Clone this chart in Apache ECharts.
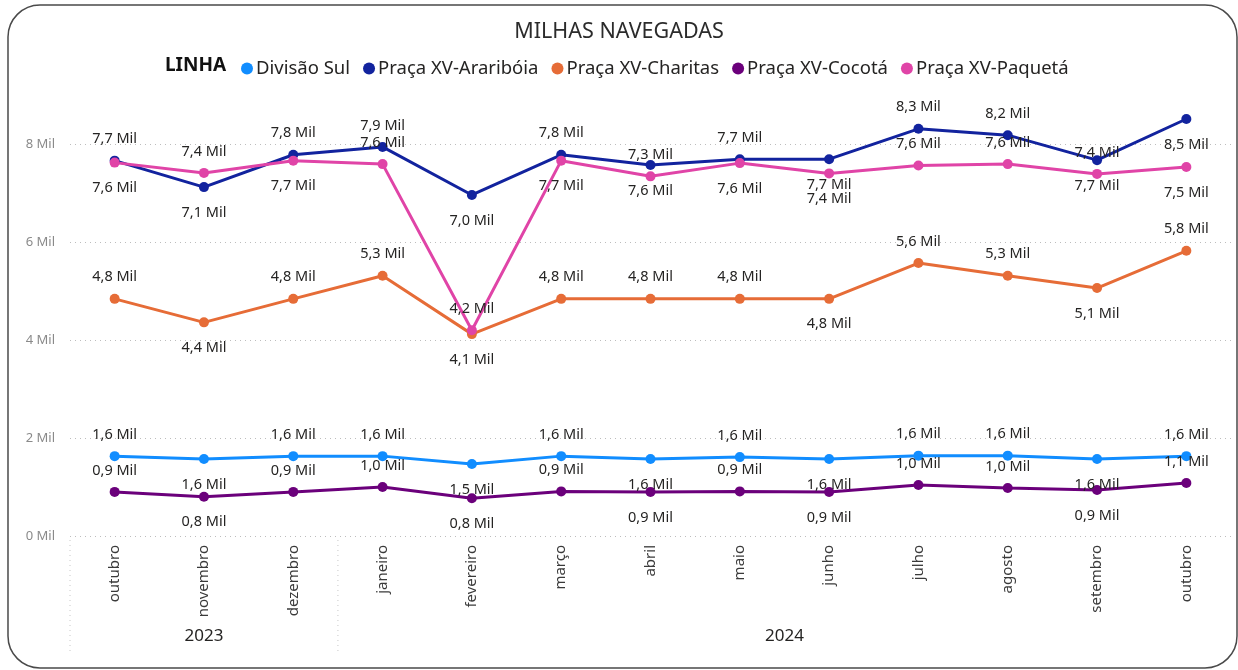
<!DOCTYPE html>
<html>
<head>
<meta charset="utf-8">
<title>Milhas navegadas</title>
<script src="https://cdn.jsdelivr.net/npm/echarts@6.0.0/dist/echarts.min.js"></script>
<style>
  html, body { margin: 0; padding: 0; background: #fff; }
  #chart { width: 1238px; height: 670px; }
</style>
</head>
<body>
<div id="chart"></div>
<script>
// meses (out/2023 .. out/2024)
const months = ['outubro', 'novembro', 'dezembro', 'janeiro', 'fevereiro', 'março', 'abril', 'maio', 'junho', 'julho', 'agosto', 'setembro', 'outubro']
const yearGroups = [
  { year: '2023', from: 0, to: 2 },
  { year: '2024', from: 3, to: 12 }
]
const seriesNames = ['Divisão Sul', 'Praça XV-Araribóia', 'Praça XV-Charitas', 'Praça XV-Cocotá', 'Praça XV-Paquetá']

// milhas navegadas por linha
const divisaoSul = [1630, 1570, 1630, 1630, 1470, 1630, 1570, 1610, 1570, 1640, 1640, 1570, 1630]
const arariboia = [7660, 7120, 7780, 7940, 6960, 7780, 7570, 7690, 7690, 8310, 8180, 7670, 8510]
const charitas = [4840, 4360, 4840, 5310, 4120, 4840, 4840, 4840, 4840, 5570, 5310, 5060, 5820]
const cocota = [900, 800, 900, 1000, 770, 910, 900, 910, 900, 1040, 980, 940, 1080]
const paqueta = [7620, 7410, 7660, 7590, 4200, 7660, 7340, 7610, 7400, 7560, 7590, 7390, 7530]

const yTicks = [0, 2000, 4000, 6000, 8000]

// onde fica o rótulo de cada ponto (T = acima, B = abaixo)
const labelSides = [
  'TBTTBTBTBTTBT',
  'TBTTBTBTBTTBB',
  'TBTTBTTTBTTBT',
  'TBTTBTBTBTTBT',
  'BTBTTBTBBTTTB'
]
const colors = ['#118DFF', '#12239E', '#E66C37', '#6B007B', '#E044A7']

const fmtMil = v => (v / 1000).toFixed(1).replace('.', ',') + ' Mil'

const chart = echarts.init(document.getElementById('chart'))

const allData = [divisaoSul, arariboia, charitas, cocota, paqueta]
const series = allData.map((arr, i) => {
  return {
    name: seriesNames[i],
    type: 'line',
    data: arr.map((v, j) => {
      const top = labelSides[i][j] === 'T'
      return {
        value: v,
        label: { position: top ? 'top' : 'bottom', distance: top ? 9 : 13 }
      }
    }),
    symbol: 'circle',
    symbolSize: 10,
    lineStyle: { width: 3, color: colors[i] },
    itemStyle: { color: colors[i] },
    label: {
      show: true,
      color: '#252423',
      fontSize: 14.5,
      fontFamily: 'Noto Sans',
      formatter: p => fmtMil(p.value)
    },
    emphasis: { disabled: true },
    animation: false
  }
})

chart.setOption({
  color: colors,
  textStyle: { fontFamily: 'Noto Sans' },
  title: {
    text: 'MILHAS NAVEGADAS',
    left: 'center',
    top: 16,
    textStyle: { fontSize: 21.5, fontWeight: 'normal', color: '#2b2b2b', fontFamily: 'Noto Sans' }
  },
  legend: {
    left: 236,
    top: 54,
    icon: 'circle',
    itemWidth: 12,
    itemHeight: 12,
    itemGap: 13,
    textStyle: { fontSize: 18.5, color: '#252423', padding: [0, 0, 0, -2] },
    data: seriesNames
  },
  grid: {
    left: 70,
    right: 7,
    top: 95,
    bottom: 134
  },
  xAxis: {
    type: 'category',
    data: months,
    axisLine: { show: false },
    axisTick: { show: false },
    axisLabel: {
      rotate: 90,
      margin: 9,
      color: '#3a3a3a',
      fontSize: 15
    }
  },
  yAxis: {
    type: 'value',
    min: yTicks[0],
    max: 9000,
    interval: 2000,
    axisLine: { show: false },
    axisTick: { show: false },
    axisLabel: {
      color: '#8a8a8a',
      fontSize: 13,
      margin: 15,
      showMaxLabel: false,
      formatter: v => (yTicks.indexOf(v) >= 0 ? v / 1000 + ' Mil' : '')
    },
    splitLine: {
      showMaxLine: false,
      lineStyle: { type: [1, 4], color: '#BDBDBD', width: 1 }
    }
  },
  series: series
})

// moldura, título da legenda e linha dos anos
function drawExtras() {
  const pos = i => chart.convertToPixel({ xAxisIndex: 0 }, i)
  const half = (pos(1) - pos(0)) / 2
  const els = [
    {
      type: 'rect',
      shape: { x: 8, y: 5, width: 1229, height: 663, r: 32 },
      style: { fill: 'none', stroke: '#4a4a4a', lineWidth: 1.5 },
      silent: true
    },
    {
      type: 'text',
      left: 165,
      top: 56,
      style: { text: 'LINHA', font: 'bold 19px "Noto Sans"', fill: '#111' }
    }
  ]
  yearGroups.forEach(g => {
    const x0 = pos(g.from) - half
    const x1 = pos(g.to) + half
    els.push({
      type: 'text',
      x: (x0 + x1) / 2,
      y: 636,
      style: { text: g.year, font: '17px "Noto Sans"', fill: '#252423', align: 'center', verticalAlign: 'middle' }
    })
    els.push({
      type: 'line',
      shape: { x1: x0, y1: 540, x2: x0, y2: 652 },
      style: { stroke: '#C8C8C8', lineWidth: 1, lineDash: [1, 4] },
      silent: true
    })
  })
  chart.setOption({ graphic: els })
}
drawExtras()
</script>
</body>
</html>
